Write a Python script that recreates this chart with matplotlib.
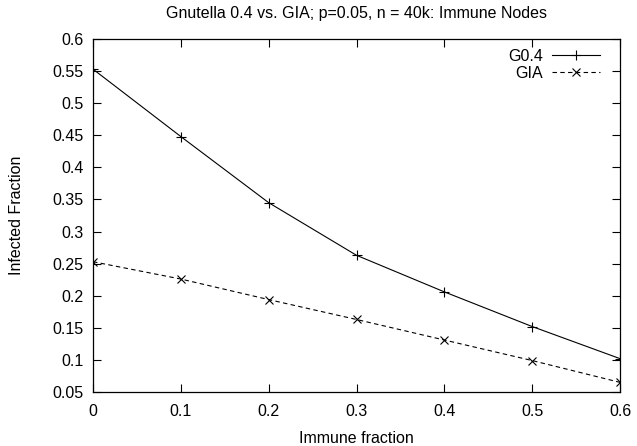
import matplotlib
matplotlib.use("Agg")
import matplotlib.pyplot as plt

plt.rcParams['font.family'] = ['Liberation Sans', 'DejaVu Sans']

x = [0, 0.1, 0.2, 0.3, 0.4, 0.5, 0.6]
g04 = [0.553, 0.448, 0.345, 0.263, 0.206, 0.152, 0.102]
gia = [0.253, 0.226, 0.194, 0.163, 0.131, 0.099, 0.065]
xticks = [0, 0.1, 0.2, 0.3, 0.4, 0.5, 0.6]
yticks = [0.05, 0.1, 0.15, 0.2, 0.25, 0.3, 0.35, 0.4, 0.45, 0.5, 0.55, 0.6]

fs = 11.5
fig = plt.figure(figsize=(6.37, 4.46), dpi=100)
ax = fig.add_axes([93/637, 54/446, 527/637, 353/446])
ax.plot(x, g04, color='black', lw=0.8, marker='+', ms=7, mew=0.8, label='G0.4')
ax.plot(x, gia, color='black', lw=0.8, ls=(0, (4, 3)), marker='x', ms=6, mew=0.8, label='GIA')
ax.set_xlim(0, 0.6)
ax.set_ylim(0.05, 0.6)
ax.set_xticks(xticks)
ax.set_xticklabels([f"{t:g}" for t in xticks])
ax.set_yticks(yticks)
ax.set_yticklabels([f"{t:g}" for t in yticks])
ax.tick_params(direction='in', top=True, right=True, length=5.5, width=0.8, labelsize=fs, pad=7)
ax.tick_params(axis='x', pad=9)
for s in ax.spines.values():
    s.set_linewidth(0.9)
ax.set_xlabel('Immune fraction', fontsize=fs, labelpad=8)
ax.set_ylabel('Infected Fraction', fontsize=fs, labelpad=20)
ax.set_title('Gnutella 0.4 vs. GIA; p=0.05, n = 40k: Immune Nodes', fontsize=fs, pad=15)
leg = ax.legend(loc='upper right', bbox_to_anchor=(0.962, 0.973), frameon=False, fontsize=fs,
                markerfirst=False, handlelength=3, handletextpad=0.55, borderaxespad=0,
                borderpad=0, labelspacing=0.15)
for t in leg.get_texts():
    t.set_ha('right')
fig.savefig('out.png', dpi=100)
